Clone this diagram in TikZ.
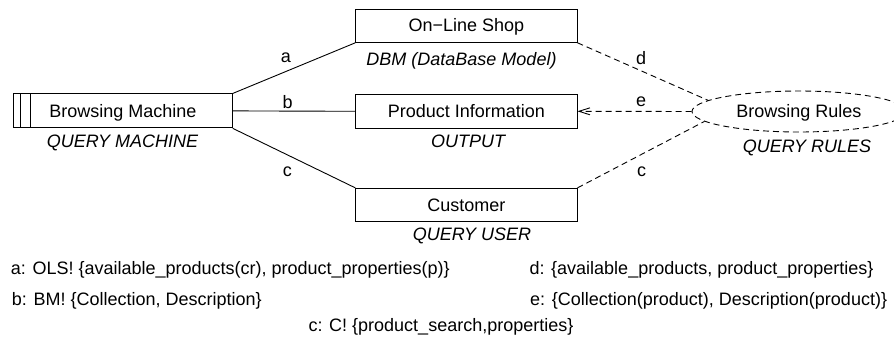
\documentclass[tikz,border=0pt]{standalone}
\usepackage{fontspec}
\setmainfont{Liberation Sans}
\usetikzlibrary{arrows.meta,shapes.geometric}
\begin{document}
\begin{tikzpicture}[x=1pt,y=-1pt,
  every node/.style={font=\fontsize{18}{21}\selectfont},
  box/.style={draw, line width=0.9pt, inner sep=0pt, text height=12.6pt, text depth=0pt},
  role/.style={anchor=base, font=\fontsize{18}{21}\selectfont\itshape},
  lbl/.style={anchor=base},
  note/.style={anchor=base west},
  solidline/.style={line width=0.9pt},
  dl/.style={line width=0.9pt, dash pattern=on 6pt off 4pt}]
\useasboundingbox (0,0) rectangle (894,339);
\clip (0,0) rectangle (894,339);
% boxes
\node[box, minimum width=219pt, minimum height=34pt] (bm) at (122.8,110.9) {Browsing Machine};
\draw[solidline] ([xshift=7.2pt]bm.north west) -- ([xshift=7.2pt]bm.south west);
\draw[solidline] ([xshift=17.2pt]bm.north west) -- ([xshift=17.2pt]bm.south west);
\node[box, minimum width=221.3pt, minimum height=33.3pt] (ols) at (466.4,25.7) {On−Line Shop};
\node[box, minimum width=221.3pt, minimum height=34pt] (pi) at (466.4,111.3) {Product Information};
\node[box, minimum width=221.3pt, minimum height=33.4pt] (cu) at (466.4,205) {Customer};
\node[box, ellipse, dl, minimum width=214pt, minimum height=41pt] (br) at (799,111.5) {Browsing Rules};
% role labels
\node[role] (qm) at (122.5,147.7) {QUERY MACHINE};
\node[role] (dbm) at (461.5,66) {DBM (DataBase Model)};
\node[role] (out) at (468,148) {OUTPUT};
\node[role] (qu) at (472,240.7) {QUERY USER};
\node[role] (qr) at (807,152.7) {QUERY RULES};
% connectors
\draw[solidline] (bm.north east) -- (ols.south west);
\draw[solidline] (bm.east) -- (pi.west);
\draw[solidline] (bm.south east) -- (cu.north west);
\draw[dl] (ols.south east) -- (br.173);
\draw[dl, -{Straight Barb[length=11pt,width=7pt,line width=0.9pt]}] (br.west) -- (pi.east);
\draw[dl] (cu.north east) -- (br.186);
% connector labels
\node[lbl] (la) at (286,62.7) {a};
\node[lbl] (lb) at (287.7,108.3) {b};
\node[lbl] (lc) at (287.3,176.7) {c};
\node[lbl] (ld) at (641,65) {d};
\node[lbl] (le) at (641,106.7) {e};
\node[lbl] (lc2) at (641.7,176.7) {c};
% notes
\node[note] (na) at (7.3,274) {a: OLS! \{available\_products(cr), product\_properties(p)\}};
\node[note] (nb) at (8.3,305) {b: BM! \{Collection, Description\}};
\node[note] (nd) at (526,274) {d: \{available\_products, product\_properties\}};
\node[note] (ne) at (526.7,305) {e: \{Collection(product), Description(product)\}};
\node[note] (nc) at (305,331.7) {c: C! \{product\_search,properties\}};
\end{tikzpicture}
\end{document}
